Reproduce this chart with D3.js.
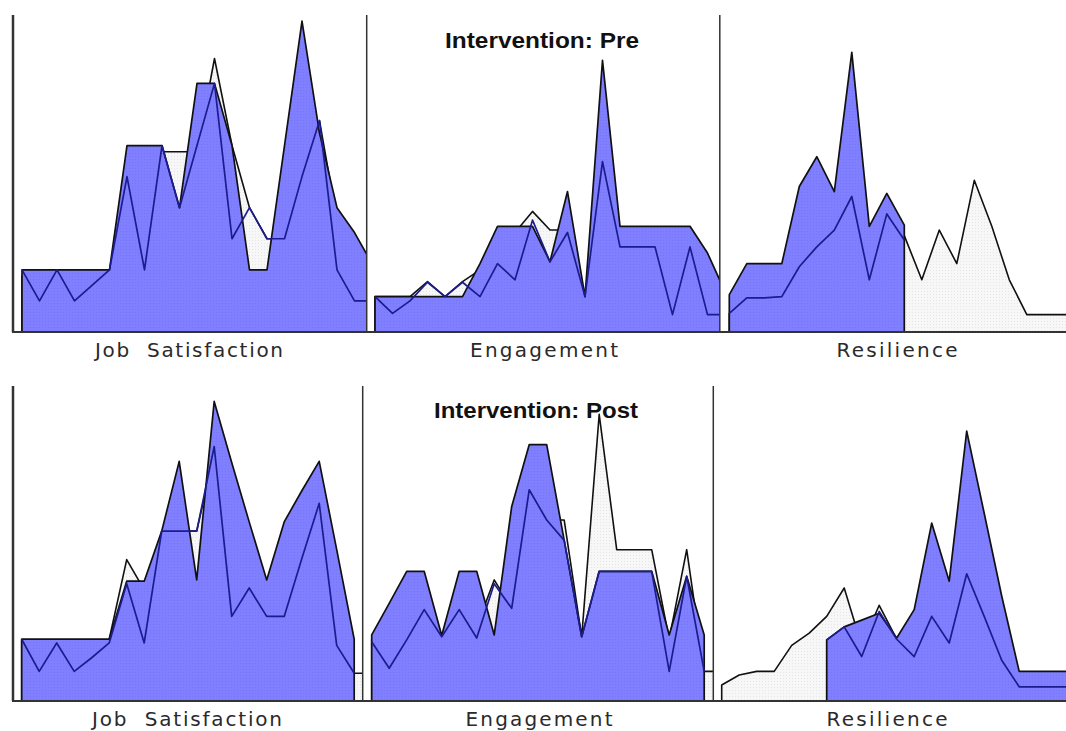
<!DOCTYPE html>
<html>
<head>
<meta charset="utf-8">
<script src="https://cdn.jsdelivr.net/npm/d3@7"></script>
<style>
  body { margin: 0; background: #fff; }
  svg { display: block; }
</style>
</head>
<body>
<div id="chart"></div>
<script>
// measures and phases
const measures = ["Job  Satisfaction", "Engagement", "Resilience"];
const phases = ["Intervention: Pre", "Intervention: Post"];

// Pre, one value per bin (null = no bin)
const preJobGrey = [0.9, 0.9, 0.9, 0.9, 0.9, 0.9, 2.5, 2.4, 2.9, 2.9, 2.9, 4.4, 3, 2, 1.5, 1.5, 2.6, 3.4, 1.8, 1.4, 1];
const preJobBlue = [1, 1, 1, 1, 1, 1, 3, 3, 3, 2, 4, 4, 3, 1, 1, 3, 5, 3.2, 2, 1.6, 1.1];
const preJobLine = [1, 0.5, 1, 0.5, 0.75, 1, 2.5, 1, 3, 2, 3, 4, 1.5, 2, 1.5, 1.5, 2.5, 3.4, 1, 0.5, 0.5];

const preEngGrey = [0.57, 0.57, 0.57, 0.81, 0.57, 0.81, 1.0, 1.5, 1.6, 1.94, 1.64, 1.64, 0.57, 2.7, 1.5, 1.5, 1.4, 0.9, 1.3, 1.0, 0.6];
const preEngBlue = [0.57, 0.57, 0.57, 0.57, 0.57, 0.57, 1.1, 1.7, 1.7, 1.7, 1.13, 2.26, 0.57, 4.37, 1.7, 1.7, 1.7, 1.7, 1.7, 1.27, 0.65];
const preEngLine = [0.57, 0.3, 0.5, 0.8, 0.57, 0.8, 0.57, 1.1, 0.84, 1.8, 1.13, 1.6, 0.57, 2.74, 1.37, 1.37, 1.37, 0.28, 1.37, 0.28, 0.28];

const preResGrey = [0.3, 0.5, 0.5, 0.55, 1.0, 1.3, 1.6, 2.0, 0.8, 1.8, 1.55, 0.84, 1.64, 1.1, 2.44, 1.7, 0.84, 0.28, 0.28, 0.28, 0.28];
const preResBlue = [0.6, 1.1, 1.1, 1.1, 2.34, 2.82, 2.26, 4.5, 1.7, 2.23, 1.72, null, null, null, null, null, null, null, null, null, null];
const preResLine = [0.3, 0.55, 0.55, 0.57, 1.05, 1.37, 1.64, 2.18, 0.84, 1.9, 1.48, null, null, null, null, null, null, null, null, null, null];

// Post
const postJobGrey = [1, 1, 1, 1, 1, 1, 2.29, 1.8, 2.6, 2.75, 2.75, 4.0, 3.0, 2.5, 1.8, 2.0, 2.8, 3.2, 2.0, 0.45, 0.45];
const postJobBlue = [1, 1, 1, 1, 1, 1, 1.94, 1.94, 2.75, 3.88, 1.96, 4.85, 3.86, 2.9, 1.96, 2.9, 3.4, 3.88, 2.45, 1.0];
const postJobLine = [1, 0.48, 0.94, 0.48, 0.7, 0.94, 1.9, 0.94, 2.75, 2.75, 2.75, 4.12, 1.37, 1.83, 1.37, 1.37, 2.3, 3.2, 0.9, 0.45];

const postEngGrey = [1.0, 1.5, 2.0, 2.0, 1.0, 2.0, 1.2, 1.96, 1.5, 4.0, 2.93, 2.93, 1.04, 4.64, 2.45, 2.45, 2.45, 1.0, 2.45, 0.48, 0.48];
const postEngBlue = [1.07, 1.58, 2.1, 2.1, 1.06, 2.1, 2.1, 1.07, 3.15, 4.15, 4.15, 2.6, 1.04, 2.1, 2.1, 2.1, 2.1, 1.07, 2.02, 1.07];
const postEngLine = [0.96, 0.53, 0.99, 1.48, 1.04, 1.48, 1.02, 1.9, 1.5, 3.42, 2.93, 2.6, 1.04, 2.1, 2.1, 2.1, 2.1, 0.48, 2.02, 0.48];

const postResGrey = [0.26, 0.42, 0.48, 0.48, 0.9, 1.1, 1.37, 1.83, 0.9, 1.55, 1.0, 0.8, 1.2, 0.9, 1.5, 1.2, 0.6, 0.3, 0.3, 0.3, 0.3];
const postResBlue = [null, null, null, null, null, null, 0.99, 1.2, 1.31, 1.42, 1.02, 1.48, 2.88, 1.94, 4.37, 3.04, 1.7, 0.48, 0.48, 0.48, 0.48];
const postResLine = [null, null, null, null, null, null, 0.99, 1.2, 0.72, 1.45, 1.0, 0.72, 1.37, 0.94, 2.06, 1.37, 0.66, 0.23, 0.23, 0.23, 0.23];

const width = 1066, height = 731;
const binStep = 17.5;

const svg = d3.select("#chart")
    .append("svg")
    .attr("width", width)
    .attr("height", height);

// 点状填充
const defs = svg.append("defs");
function dotPattern(id, bg, dot) {
    const p = defs.append("pattern")
        .attr("id", id)
        .attr("width", 3)
        .attr("height", 3)
        .attr("patternUnits", "userSpaceOnUse");
    p.append("rect").attr("width", 3).attr("height", 3).attr("fill", bg);
    p.append("rect").attr("width", 1).attr("height", 1).attr("fill", dot);
}
dotPattern("dotBlue", "#7f7fff", "#7676f4");
dotPattern("dotGrey", "#f7f7f7", "#e6e6e6");

const rows = [
    {
        title: phases[0], base: 332, top: 15, titleY: 48, titleX: 542, titleW: 194, labelY: 357,
        lines: [13, 366.7, 719.8], starts: [22, 375, 729.3],
        labelX: [189, 544, 897], labelW: [188, 148, 121],
        series: [[preJobGrey, preJobBlue, preJobLine], [preEngGrey, preEngBlue, preEngLine], [preResGrey, preResBlue, preResLine]]
    },
    {
        title: phases[1], base: 701, top: 386, titleY: 418, titleX: 536, titleW: 204, labelY: 726,
        lines: [13, 362.7, 713.3], starts: [21.7, 371.7, 721.7],
        labelX: [187, 539, 887], labelW: [190, 147, 121],
        series: [[postJobGrey, postJobBlue, postJobLine], [postEngGrey, postEngBlue, postEngLine], [postResGrey, postResBlue, postResLine]]
    }
];

rows.forEach((row, r) => {
    const y = d3.scaleLinear().domain([0, 5.1]).range([row.base, row.top]);
    const g = svg.append("g");

    row.series.forEach((s, c) => {
        const x = d3.scaleLinear().domain([0, 20]).range([row.starts[c], row.starts[c] + 20 * binStep]);
        const right = c < 2 ? row.lines[c + 1] : width;

        const clipId = `clip-${r}-${c}`;
        defs.append("clipPath").attr("id", clipId)
            .append("rect")
            .attr("x", row.lines[c])
            .attr("y", row.top - 10)
            .attr("width", right - row.lines[c])
            .attr("height", row.base - row.top + 12);

        const area = d3.area()
            .defined(d => d != null)
            .x((d, i) => x(i))
            .y0(y(0))
            .y1(d => y(d));
        const line = d3.line()
            .defined(d => d != null)
            .x((d, i) => x(i))
            .y(d => y(d));

        const pg = g.append("g").attr("clip-path", `url(#${clipId})`);
        pg.append("path")
            .datum(s[0])
            .attr("d", area)
            .attr("fill", "url(#dotGrey)")
            .attr("stroke", "#111")
            .attr("stroke-width", 1.6)
            .attr("stroke-linejoin", "round");
        pg.append("path")
            .datum(s[1])
            .attr("d", area)
            .attr("fill", "url(#dotBlue)")
            .attr("stroke", "#111")
            .attr("stroke-width", 1.7)
            .attr("stroke-linejoin", "round");
        pg.append("path")
            .datum(s[2])
            .attr("d", line)
            .attr("fill", "none")
            .attr("stroke", "#1c1c8e")
            .attr("stroke-width", 1.7)
            .attr("stroke-linejoin", "round");

        // 变量名
        g.append("text")
            .attr("x", row.labelX[c])
            .attr("y", row.labelY)
            .attr("text-anchor", "middle")
            .attr("textLength", row.labelW[c])
            .attr("lengthAdjust", "spacing")
            .style("white-space", "pre")
            .style("font-family", "'DejaVu Sans', Verdana, sans-serif")
            .style("font-size", "20px")
            .style("fill", "#2a2a2a")
            .text(measures[c]);
    });

    // 边框
    g.append("line")
        .attr("x1", row.lines[0] - 1).attr("x2", width)
        .attr("y1", row.base).attr("y2", row.base)
        .attr("stroke", "#333").attr("stroke-width", 2);
    row.lines.forEach((lx, i) => {
        g.append("line")
            .attr("x1", lx).attr("x2", lx)
            .attr("y1", row.top).attr("y2", row.base)
            .attr("stroke", "#333")
            .attr("stroke-width", i === 0 ? 2.5 : 1.5);
    });

    g.append("text")
        .attr("x", row.titleX)
        .attr("y", row.titleY)
        .attr("text-anchor", "middle")
        .attr("textLength", row.titleW)
        .attr("lengthAdjust", "spacingAndGlyphs")
        .style("font-family", "'Liberation Sans', Arial, sans-serif")
        .style("font-weight", "bold")
        .style("font-size", "22px")
        .style("fill", "#111")
        .text(row.title);
});
</script>
</body>
</html>
